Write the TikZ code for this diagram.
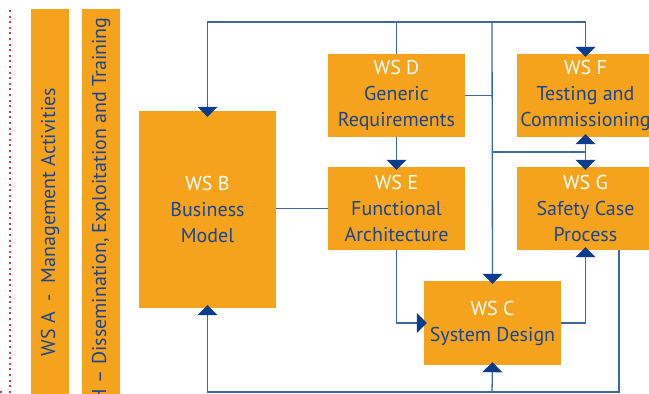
\documentclass[tikz,border=0pt]{standalone}
\usepackage{fontspec}
\setmainfont{PT Sans}
\usetikzlibrary{arrows.meta}

\definecolor{wsorange}{HTML}{F5A31C}
\definecolor{wsblue}{HTML}{1B4690}
\definecolor{lineblue}{HTML}{3D66A4}
\definecolor{tipblue}{HTML}{0B3D8C}
\definecolor{dotred}{HTML}{E8333C}

\tikzset{
  ws/.style={fill=wsorange, text=wsblue, align=center, inner sep=0pt,
    minimum width=137pt, font=\fontsize{20}{26}\selectfont},
  wsbar/.style={fill=wsorange},
  link/.style={draw=lineblue, line width=1.3pt},
  flow/.style={link, -{Triangle[width=20pt,length=10pt,color=tipblue]}, shorten >=-3pt},
}
\newcommand{\wslabel}[1]{\textcolor{white}{#1}}

\begin{document}
\begin{tikzpicture}[x=1pt,y=-1pt]
    \useasboundingbox (0,0) rectangle (649,394);
    \draw[dotred, line width=2pt, dash pattern=on 2pt off 3.6pt] (10,10) -- (10,394); %frame
    \draw[dotred, line width=2pt, dash pattern=on 2pt off 3.6pt] (0,392) -- (4,392);
    % side bars
    \fill[wsbar] (31,9) rectangle (69,394);
    \fill[wsbar] (82,9) rectangle (120,394);
    \node[rotate=90, text=wsblue, font=\fontsize{20}{26}\selectfont] (wsA) at (50,222)
      {WS A\ \ -\ \ Management Activities};
    \begin{scope}
      \clip (82,9) rectangle (120,394);
      \node[rotate=90, anchor=east, text=wsblue, font=\fontsize{20}{26}\selectfont] (wsH) at (101,14)
        {WS H -- Dissemination, Exploitation and Training};
    \end{scope}
    % work streams
    \node[ws, minimum height=197pt] (wsB) at (207.5,209.5) {\wslabel{WS B}\\Business\\Model};
    \node[ws, minimum height=83pt] (wsD) at (396.5,95.5) {\wslabel{WS D}\\Generic\\Requirements};
    \node[ws, minimum height=83pt] (wsE) at (396.5,208.5) {\wslabel{WS E}\\Functional\\Architecture};
    \node[ws, minimum height=83pt] (wsF) at (585.5,95.5) {\wslabel{WS F}\\Testing and\\Commissioning};
    \node[ws, minimum height=83pt] (wsG) at (585.5,208.5) {\wslabel{WS G}\\Safety Case\\Process};
    \node[ws, minimum height=84pt] (wsC) at (492.5,323) {\wslabel{WS C}\\System Design};
    % links
    \coordinate (top) at (492,22);
    \coordinate (mid) at (492,152);
    \coordinate (bot) at (492,392);
    \draw[flow, shorten >=-6pt] (wsD.north |- top) -| (wsB.north);
    \draw[link] (wsD.north) -- (wsD.north |- top) -- (top);
    \draw[flow] (top) -| (wsF.north);
    \draw[flow] (top) -- (wsC.north);
    \draw[link] (wsD.east) -- (wsD.east -| top);
    \draw[flow] (mid) -| (wsG.north);
    \draw[flow] (wsG.north |- mid) -- (wsF.south);
    \draw[link] (wsB.east |- wsE.west) -- (wsE.west);
    \draw[flow] (wsD.south) -- (wsE.north);
    \draw[flow] (wsE.south) |- (wsC.west);
    \draw[flow] (wsC.east) -| (wsG.south);
    \draw[flow] ([xshift=33.5pt]wsG.south) |- (bot) -| (wsB.south);
    \draw[flow] (bot) -- (wsC.south);
  \end{tikzpicture}
\end{document}
